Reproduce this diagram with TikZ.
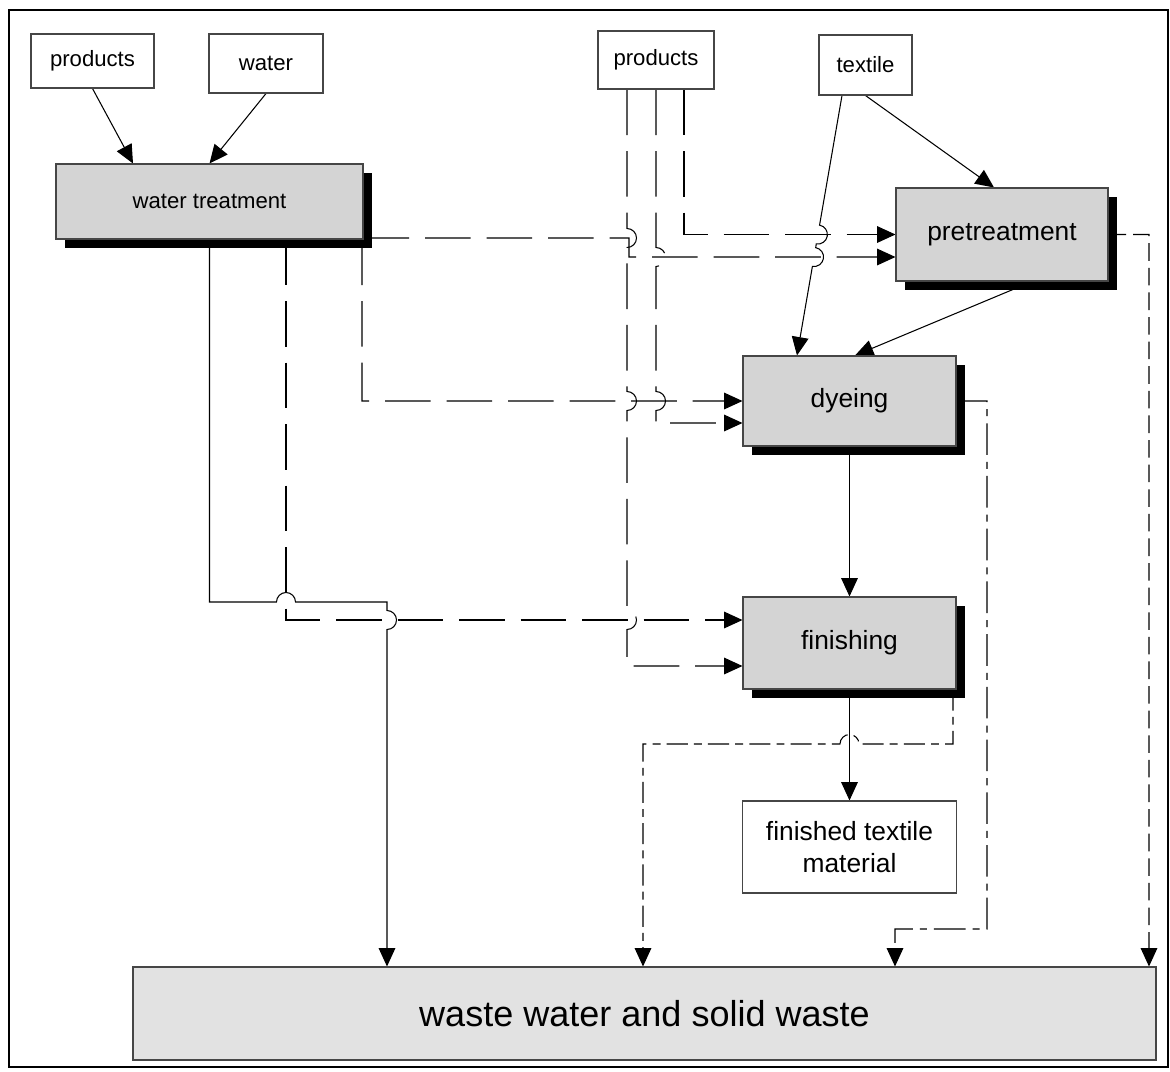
\documentclass[tikz,border=0pt]{standalone}
\usepackage{fontspec}
\setmainfont{Liberation Sans}
\usetikzlibrary{positioning,arrows.meta,shadows}
\pgfdeclarelayer{background}
\pgfsetlayers{background,main}
\definecolor{stepgray}{RGB}{212,212,212}
\definecolor{wastegray}{RGB}{226,226,226}
\definecolor{boxline}{RGB}{70,70,70}

\begin{document}
\begin{tikzpicture}[
  every node/.style={font=\fontsize{12.6}{15}\selectfont},
  source/.style={draw=boxline, fill=white, line width=0.6pt,
    align=center, inner sep=2pt},
  process/.style={draw=boxline, fill=stepgray, line width=0.6pt,
    align=center, inner sep=2pt, font=\fontsize{15}{18}\selectfont,
    drop shadow={shadow xshift=0.17cm, shadow yshift=-0.17cm,
      fill=black, opacity=1}},
  product/.style={draw=boxline, fill=white, line width=0.6pt,
    align=center, inner sep=2pt, font=\fontsize{15}{18}\selectfont},
  sink/.style={draw=boxline, fill=wastegray, line width=0.6pt,
    align=center, font=\fontsize{20.5}{24}\selectfont},
  flow/.style={-{Triangle[length=10.5pt,width=9.5pt]}, line width=0.6pt},
  feed/.style={flow, dash pattern=on 26pt off 9pt},
  drainP/.style={flow, dash pattern=on 10pt off 4pt},
  drainD/.style={flow, dash pattern=on 18pt off 4pt on 4pt off 4pt},
  drainF/.style={flow, dash pattern=on 12pt off 3.5pt on 4.5pt off 3.5pt},
]
\useasboundingbox (0,0) rectangle (23.4,-21.44);
\draw[line width=1.1pt] (0.18,-0.2) rectangle (23.36,-21.34);

% inputs
\node[source, minimum width=2.46cm, minimum height=1.08cm] at ( 1.85, -1.22) (prod1)   {products};
\node[source, minimum width=2.28cm, minimum height=1.18cm] at ( 5.32, -1.27) (water)   {water};
\node[source, minimum width=2.32cm, minimum height=1.16cm] at (13.12, -1.20) (prod2)   {products};
\node[source, minimum width=1.86cm, minimum height=1.20cm] at (17.31, -1.30) (textile) {textile};

% process steps
\node[process, minimum width=6.14cm, minimum height=1.50cm,
      font=\fontsize{12.6}{15}\selectfont]                  at ( 4.19, -4.03) (wtreat)  {water treatment};
\node[process, minimum width=4.24cm, minimum height=1.86cm] at (20.04, -4.69) (pretr)   {pretreatment};
\node[process, minimum width=4.26cm, minimum height=1.80cm] at (16.99, -8.02) (dye)     {dyeing};
\node[process, minimum width=4.26cm, minimum height=1.84cm] at (16.99,-12.86) (finish)  {finishing};

% outputs
\node[product, minimum width=4.28cm, minimum height=1.84cm] at (16.99,-16.94) (fintex)  {finished textile\\material};
\node[sink, minimum width=20.46cm, minimum height=1.86cm]   at (12.89,-20.27) (waste)   {waste water and solid waste};

\begin{pgfonlayer}{background}
% solid flows
\draw[flow] (prod1.south) -- ([xshift=-1.53cm]wtreat.north);
\draw[flow] (water.south) -- (wtreat.north);
\draw[flow] (textile.south) -- ([xshift=-0.16cm]pretr.north);
\draw[flow] ([xshift=-0.47cm]textile.south) -- (16.391,-4.503)
  arc[start angle=80, end angle=-100, radius=0.19cm] -- (16.314,-4.953)
  arc[start angle=80, end angle=-100, radius=0.19cm] -- ([xshift=-1.05cm]dye.north);
\draw[flow] ([xshift=0.6cm]pretr.south) -- ([xshift=0.11cm]dye.north);
\draw[flow] (dye.south) -- (finish.north);
\draw[flow] (finish.south) -- (fintex.north);
\draw[flow] (wtreat.south) -- (4.19,-12.04) -- (5.53,-12.04)
  arc[start angle=180, end angle=0, radius=0.19cm] -- (7.74,-12.04) -- (7.74,-12.21)
  arc[start angle=90, end angle=-90, radius=0.19cm] -- ([xshift=-5.15cm]waste.north);

% water and products feeds
\draw[feed] ([yshift=-0.73cm]wtreat.east) -- (12.58,-4.76) -- (12.58,-5.14) -- ([yshift=-0.45cm]pretr.west);
\draw[feed] ([xshift=0.56cm]prod2.south) -- (13.68,-4.69) -- (pretr.west);
\draw[feed] ([xshift=3.05cm]wtreat.south) -- (7.24,-8.02) -- (dye.west);
\draw[feed] (prod2.south) -- (13.12,-4.95)
  arc[start angle=90, end angle=-90, radius=0.19cm] -- (13.12,-7.83)
  arc[start angle=90, end angle=-90, radius=0.19cm] -- (13.12,-8.46) -- ([yshift=-0.44cm]dye.west);
\draw[feed] ([xshift=-0.58cm]prod2.south) -- (12.54,-4.57)
  arc[start angle=90, end angle=-90, radius=0.19cm] -- (12.54,-7.83)
  arc[start angle=90, end angle=-90, radius=0.19cm] -- (12.54,-12.21)
  arc[start angle=90, end angle=-90, radius=0.19cm] -- (12.54,-13.32) -- ([yshift=-0.46cm]finish.west);
\draw[feed] ([xshift=1.53cm]wtreat.south) -- (5.72,-12.40) -- ([yshift=0.46cm]finish.west);

% waste streams
\draw[drainP] (pretr.east) -- (22.98,-4.69) -- ([xshift=10.09cm]waste.north);
\draw[drainD] (dye.east) -- (19.74,-8.02) -- (19.74,-18.58) -- (17.90,-18.58) -- ([xshift=5.01cm]waste.north);
\draw[drainF] ([xshift=2.07cm]finish.south) -- (19.06,-14.88) -- (17.18,-14.88)
  arc[start angle=0, end angle=180, radius=0.19cm] -- (12.86,-14.88) -- ([xshift=-0.03cm]waste.north);
\end{pgfonlayer}
\end{tikzpicture}
\end{document}
